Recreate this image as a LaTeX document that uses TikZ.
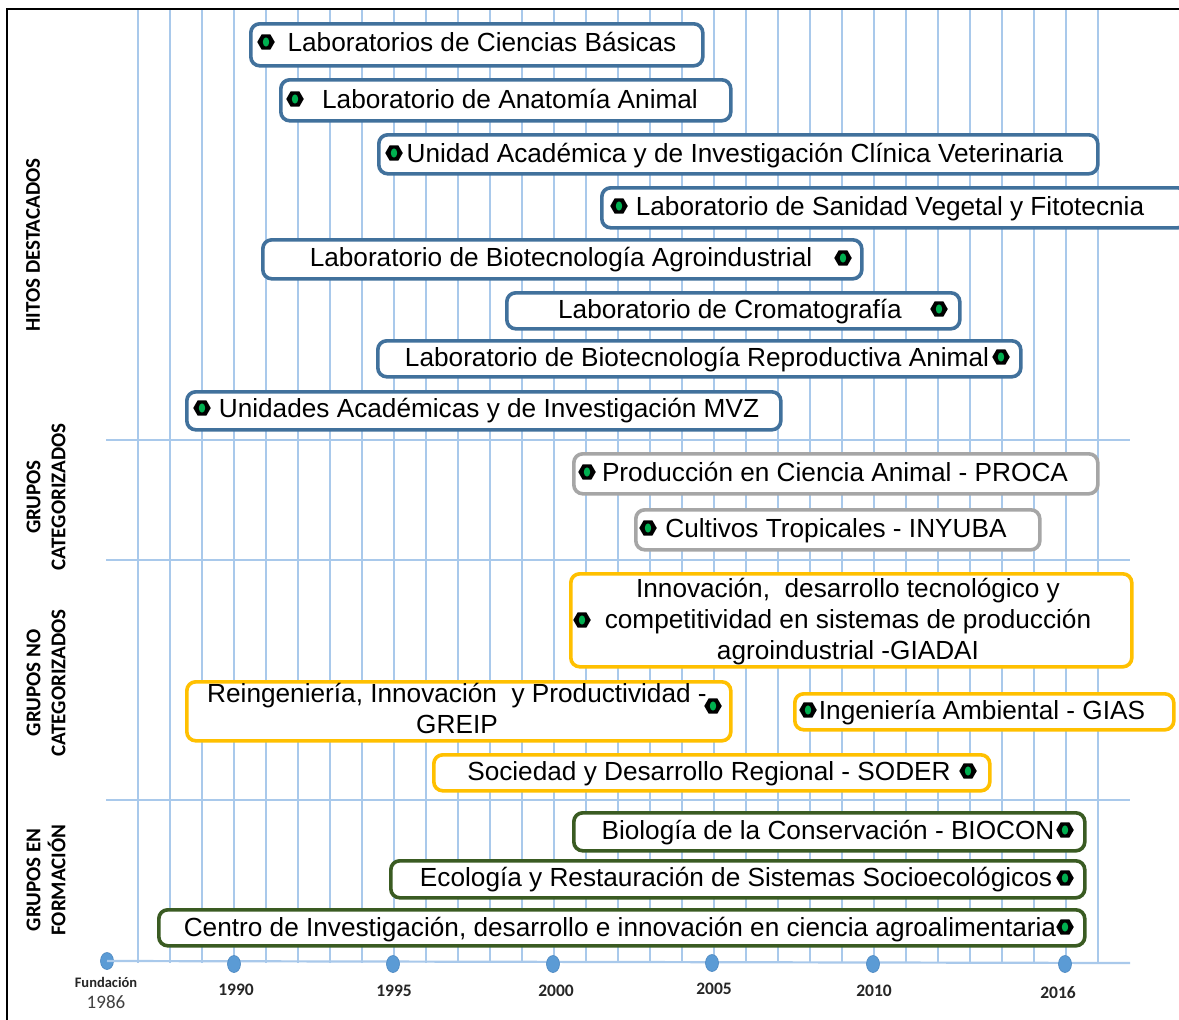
\documentclass[tikz,border=0pt]{standalone}
\usepackage{fontspec}
\setmainfont{Liberation Sans}
\newfontfamily\calib{Carlito}
\usetikzlibrary{shapes.geometric}
\definecolor{bxblue}{HTML}{41719C}
\definecolor{bxgray}{HTML}{A6A6A6}
\definecolor{bxyel}{HTML}{FFC000}
\definecolor{bxgreen}{HTML}{3A5B22}
\definecolor{gridc}{HTML}{A9C9EB}
\definecolor{dotc}{HTML}{5B9BD5}
\definecolor{dotedge}{HTML}{4A86C0}
\definecolor{mkgreen}{HTML}{00B050}
\definecolor{yrgray}{HTML}{404040}
\tikzset{
  frame/.style={line width=2pt, black},
  gridl/.style={draw=gridc, line width=1.6pt},
  axisl/.style={draw=gridc, line width=2.2pt},
  bxbase/.style={line width=3.6pt, rounded corners=9pt, fill=white, inner sep=0pt},
  hbox/.style={bxbase, draw=bxblue},
  cbox/.style={bxbase, draw=bxgray},
  nbox/.style={bxbase, draw=bxyel},
  fbox/.style={bxbase, draw=bxgreen},
  btxt/.style={inner sep=0pt, font=\fontsize{26.2}{31}\selectfont, align=center},
  hexmk/.style={regular polygon, regular polygon sides=6, minimum size=17.5pt, inner sep=0pt, fill=black,
     path picture={\fill[mkgreen] (path picture bounding box.center) ellipse (3.2pt and 4.6pt);}},
  sidelab/.style={rotate=90, align=center, inner sep=0pt, font=\calib\bfseries\fontsize{21}{25}\selectfont},
  yr/.style={inner sep=0pt, font=\calib\bfseries\fontsize{17.5}{20}\selectfont, text=black!85},
  axdot/.style={ellipse, minimum width=13pt, minimum height=17pt, inner sep=0pt, fill=dotc, draw=dotedge, line width=0.6pt},
}
\newcommand{\gbox}[6]{\node[#1, anchor=north west, minimum width={#5-#3-4}, minimum height={#6-#4-4}] (#2) at ({#3+2},{#4+2}) {};}
\begin{document}
\begin{tikzpicture}[x=1pt,y=-1pt]
\clip (0,0) rectangle (1179,1020);
\fill[white] (0,0) rectangle (1179,1020);
% frame
\draw[frame] (7,1040) -- (7,9) -- (1200,9);
% grid
\foreach \yy in {1987,...,2017} {
  \draw[gridl] ({234+32*(\yy-1990)},10) -- ({234+32*(\yy-1990)},963);
}
\foreach \sy in {440,560,800} {
  \draw[gridl] (106,\sy) -- (1130,\sy);
}
% axis
\node[axdot] (d1986) at (107,961) {};
\coordinate (axend) at (1130,963);
\draw[axisl] (d1986.center) -- (axend);
\node[axdot] (d1990) at (234,964) {};
\node[axdot] (d1995) at (393,964) {};
\node[axdot] (d2000) at (553,964) {};
\node[axdot] (d2005) at (712,963) {};
\node[axdot] (d2010) at (873,964) {};
\node[axdot] (d2016) at (1065,964) {};
\node[inner sep=0pt, font=\calib\bfseries\fontsize{14.5}{16}\selectfont, text=black!85] (lfund) at (106,982) {Fundación};
\node[inner sep=0pt, font=\calib\fontsize{19}{20}\selectfont, text=yrgray] (l1986) at (106,1002) {1986};
\node[yr] (l1990) at (236,990) {1990};
\node[yr] (l1995) at (394,991) {1995};
\node[yr] (l2000) at (556,991) {2000};
\node[yr] (l2005) at (714,989) {2005};
\node[yr] (l2010) at (874,991) {2010};
\node[yr] (l2016) at (1058,993) {2016};
% side labels
\node[sidelab] (sh) at (33,245) {HITOS DESTACADOS};
\node[sidelab] (sc) at (46,497) {GRUPOS\\CATEGORIZADOS};
\node[sidelab] (sn) at (46,683) {GRUPOS NO\\CATEGORIZADOS};
\node[sidelab] (sf) at (46,880) {GRUPOS EN\\FORMACIÓN};
% HITOS
\gbox{hbox}{b1}{247}{20}{703}{66}
\node[btxt, anchor=base] (t1) at (482,51) {Laboratorios de Ciencias Básicas};
\node[hexmk] (m1) at (266,42) {};
\gbox{hbox}{b2}{277}{76}{731}{121}
\node[btxt, anchor=base] (t2) at (510,108) {Laboratorio de Anatomía Animal};
\node[hexmk] (m2) at (295,99) {};
\gbox{hbox}{b3}{375}{131}{1098}{174}
\node[btxt, anchor=base] (t3) at (735,162) {Unidad Académica y de Investigación Clínica Veterinaria};
\node[hexmk] (m3) at (394,153) {};
\gbox{hbox}{b4}{598}{184}{1187}{228}
\node[btxt, anchor=base] (t4) at (890,215) {Laboratorio de Sanidad Vegetal y Fitotecnia};
\node[hexmk] (m4) at (619,206) {};
\gbox{hbox}{b5}{259}{236}{862}{279}
\node[btxt, anchor=base] (t5) at (561,266) {Laboratorio de Biotecnología Agroindustrial};
\node[hexmk] (m5) at (843,258) {};
\gbox{hbox}{b6}{503}{289}{960}{329}
\node[btxt, anchor=base] (t6) at (730,318) {Laboratorio de Cromatografía};
\node[hexmk] (m6) at (939,309) {};
\gbox{hbox}{b7}{374}{337}{1021}{377}
\node[btxt, anchor=base] (t7) at (697,366) {Laboratorio de Biotecnología Reproductiva Animal};
\node[hexmk] (m7) at (1001,357) {};
\gbox{hbox}{b8}{183}{388}{781}{430}
\node[btxt, anchor=base] (t8) at (489,417) {Unidades Académicas y de Investigación MVZ};
\node[hexmk] (m8) at (202,408) {};
% categorizados
\gbox{cbox}{b9}{570}{450}{1098}{494}
\node[btxt, anchor=base] (t9) at (835,481) {Producción en Ciencia Animal - PROCA};
\node[hexmk] (m9) at (587,472) {};
\gbox{cbox}{b10}{632}{506}{1040}{550}
\node[btxt, anchor=base] (t10) at (836,537) {Cultivos Tropicales - INYUBA};
\node[hexmk] (m10) at (648,528) {};
% no categorizados
\gbox{nbox}{b11}{567}{570}{1132}{667}
\node[btxt, anchor=base] (t11) at (848,659) {Innovación, \ desarrollo tecnológico y\\competitividad en sistemas de producción\\agroindustrial -GIADAI};
\node[hexmk] (m11) at (582,620) {};
\gbox{nbox}{b12}{183}{678}{731}{741}
\node[btxt, anchor=base] (t12) at (457,733) {Reingeniería, Innovación \ y Productividad -\\GREIP};
\node[hexmk] (m12) at (713,706) {};
\gbox{nbox}{b13}{791}{690}{1174}{730}
\node[btxt, anchor=base] (t13) at (982,719) {Ingeniería Ambiental - GIAS};
\node[hexmk] (m13) at (808,710) {};
\gbox{nbox}{b14}{430}{751}{990}{791}
\node[btxt, anchor=base] (t14) at (709,780) {Sociedad y Desarrollo Regional - SODER};
\node[hexmk] (m14) at (968,771) {};
% en formacion
\gbox{fbox}{b15}{570}{809}{1085}{851}
\node[btxt, anchor=base] (t15) at (828,839) {Biología de la Conservación - BIOCON};
\node[hexmk] (m15) at (1065,830) {};
\gbox{fbox}{b16}{387}{857}{1085}{898}
\node[btxt, anchor=base] (t16) at (736,886) {Ecología y Restauración de Sistemas Socioecológicos};
\node[hexmk] (m16) at (1065,878) {};
\gbox{fbox}{b17}{155}{906}{1085}{946}
\node[btxt, anchor=base] (t17) at (620,936) {Centro de Investigación, desarrollo e innovación en ciencia agroalimentaria};
\node[hexmk] (m17) at (1065,927) {};
\end{tikzpicture}
\end{document}
